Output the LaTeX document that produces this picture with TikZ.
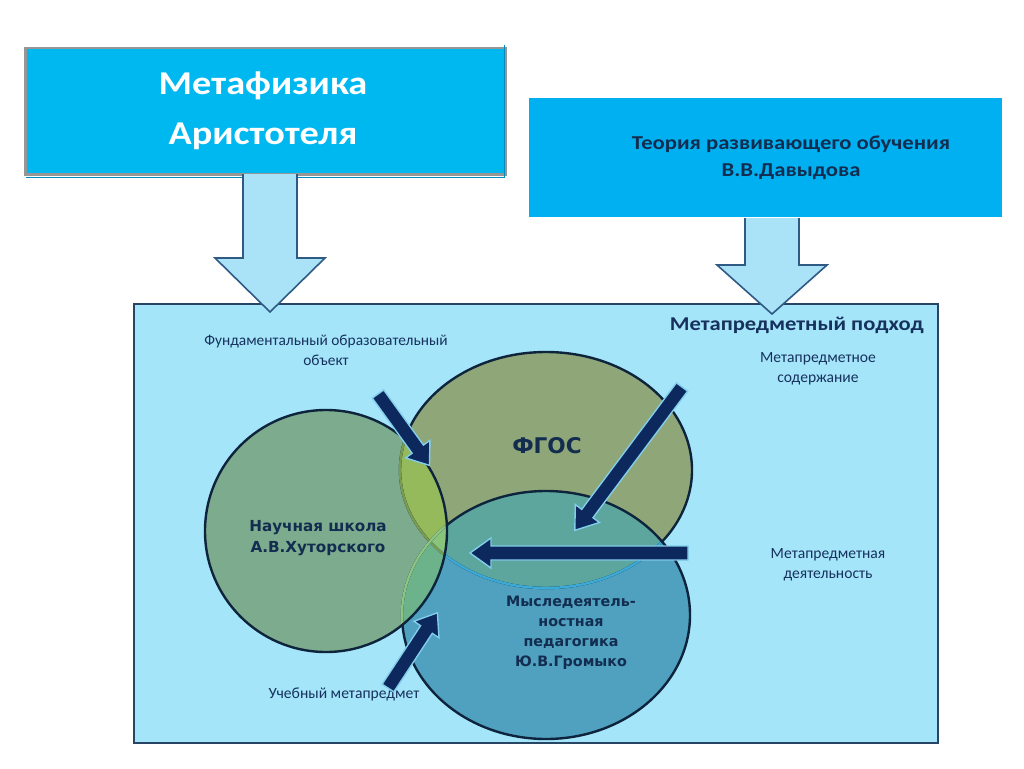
\documentclass[tikz,border=0pt]{standalone}
\usepackage{fontspec}
\setmainfont{Carlito}
\newfontfamily\widefont[FakeStretch=1.15]{Carlito}
\newfontfamily\ellfont{DejaVu Sans}
\definecolor{boxA}{RGB}{0,184,240}
\definecolor{boxB}{RGB}{0,176,240}
\definecolor{mainfill}{RGB}{165,229,250}
\definecolor{mainline}{RGB}{40,70,100}
\definecolor{arrfill}{RGB}{170,226,248}
\definecolor{arrline}{RGB}{46,90,132}
\definecolor{navy}{RGB}{22,50,92}
\definecolor{txtdark}{RGB}{18,45,80}
\definecolor{colL}{RGB}{125,171,141}
\definecolor{colF}{RGB}{143,167,120}
\definecolor{colB}{RGB}{80,160,192}
\definecolor{colLF}{RGB}{148,186,92}
\definecolor{colLB}{RGB}{108,178,138}
\definecolor{colFB}{RGB}{92,166,158}
\definecolor{colLFB}{RGB}{136,196,122}
\definecolor{edark}{RGB}{14,36,60}
\definecolor{darr}{RGB}{12,40,92}
\definecolor{glow}{RGB}{130,205,235}
\definecolor{lineFB}{RGB}{60,170,215}
\definecolor{lineFL}{RGB}{120,155,80}
\definecolor{lineBL}{RGB}{140,196,130}
\definecolor{boxgray}{RGB}{150,150,150}
\definecolor{boxedge}{RGB}{0,140,190}
\tikzset{
  lbl/.style={font=\fontsize{15.6}{19.5}\selectfont, text=navy, align=center, inner sep=0pt},
  elltxt/.style={font=\ellfont\fontsize{14.3}{20}\selectfont\bfseries, text=txtdark, align=center, inner sep=0pt},
  blockarr/.style={fill=arrfill, draw=arrline, line width=1.6pt, line join=miter},
  darkarr/.style={fill=darr, draw=glow, line width=1.4pt, line join=miter},
  eline/.style={draw=edark, line width=2.4pt},
}
\begin{document}
\begin{tikzpicture}[x=1pt,y=-1pt]
\fill[white] (0,0) rectangle (1024,768);
\useasboundingbox (0,0) rectangle (1024,768);

% main box
\node[draw=mainline, fill=mainfill, line width=2pt, minimum width=804pt, minimum height=439pt, anchor=north west, inner sep=0pt] (main) at (133,303) {};

% ellipses: base fills
\fill[colF] (546,470) ellipse [x radius=146, y radius=118];
\fill[colB] (546,615) ellipse [x radius=144, y radius=124];
\fill[colL] (326,531) ellipse [x radius=121, y radius=121];
% pairwise intersections
\begin{scope}
  \clip (326,531) ellipse [x radius=121, y radius=121];
  \fill[colLF] (546,470) ellipse [x radius=146, y radius=118];
\end{scope}
\begin{scope}
  \clip (326,531) ellipse [x radius=121, y radius=121];
  \fill[colLB] (546,615) ellipse [x radius=144, y radius=124];
\end{scope}
\begin{scope}
  \clip (546,470) ellipse [x radius=146, y radius=118];
  \fill[colFB] (546,615) ellipse [x radius=144, y radius=124];
\end{scope}
\begin{scope}
  \clip (326,531) ellipse [x radius=121, y radius=121];
  \clip (546,470) ellipse [x radius=146, y radius=118];
  \fill[colLFB] (546,615) ellipse [x radius=144, y radius=124];
\end{scope}
% outlines: FGOS (bottom layer)
\draw[eline] (546,470) ellipse [x radius=146, y radius=118];
\begin{scope}
  \clip (546,615) ellipse [x radius=143, y radius=123];
  \draw[draw=lineFB, line width=2.4pt] (546,470) ellipse [x radius=146, y radius=118];
\end{scope}
\begin{scope}
  \clip (326,531) ellipse [x radius=120, y radius=120];
  \draw[draw=lineFL, line width=2.4pt] (546,470) ellipse [x radius=146, y radius=118];
\end{scope}
% outlines: bottom ellipse
\draw[eline] (546,615) ellipse [x radius=144, y radius=124];
\begin{scope}
  \clip (326,531) ellipse [x radius=120, y radius=120];
  \draw[draw=lineBL, line width=2.4pt] (546,615) ellipse [x radius=144, y radius=124];
\end{scope}
% outlines: left ellipse (top)
\draw[eline] (326,531) ellipse [x radius=121, y radius=121];

% ellipse texts
\node[elltxt, font=\ellfont\fontsize{15.2}{20.5}\selectfont\bfseries] (sci) at (318,538) {Научная школа\\А.В.Хуторского};
\node[elltxt, font=\ellfont\fontsize{21.6}{24}\selectfont\bfseries] (fgos) at (547,446) {ФГОС};
\node[elltxt] (myslo) at (571,633) {Мыследеятель-\\ностная\\педагогика\\Ю.В.Громыко};

% labels
\node[lbl, font=\widefont\fontsize{19.6}{22}\selectfont\bfseries, anchor=east] (approach) at (924,325) {Метапредметный подход};
\node[lbl, font=\fontsize{15.4}{20}\selectfont] (fund) at (326,350) {Фундаментальный образовательный\\объект};
\node[lbl] (content) at (818,369) {Метапредметное\\содержание};
\node[lbl] (activity) at (828,565) {Метапредметная\\деятельность};
\node[lbl] (subject) at (344,694) {Учебный метапредмет};

% dark arrows
\begin{scope}[shift={(378,394)}, rotate=-54.2]
  \draw[darkarr] (0,-7) -- (68,-7) -- (68,-15) -- (88,0) -- (68,15) -- (68,7) -- (0,7) -- cycle;
\end{scope}
\begin{scope}[shift={(682,387)}, rotate=-126.8]
  \draw[darkarr] (0,-7) -- (158,-7) -- (158,-15) -- (179,0) -- (158,15) -- (158,7) -- (0,7) -- cycle;
\end{scope}
\begin{scope}[shift={(688,553)}, rotate=180]
  \draw[darkarr] (0,-7) -- (197,-7) -- (197,-15) -- (218,0) -- (197,15) -- (197,7) -- (0,7) -- cycle;
\end{scope}
\begin{scope}[shift={(388,688)}, rotate=56.7]
  \draw[darkarr] (0,-7) -- (70,-7) -- (70,-15) -- (90,0) -- (70,15) -- (70,7) -- (0,7) -- cycle;
\end{scope}

% top boxes
\node[fill=boxA, draw=boxgray, line width=2.5pt, minimum width=480pt, minimum height=126pt, anchor=north west, inner sep=0pt] (aris) at (24,47) {};
\draw[line width=1.5pt, draw=boxedge] ([xshift=-2pt,yshift=2pt]aris.north east) -- ([xshift=-2pt,yshift=-2pt]aris.south east) -- ([xshift=2pt,yshift=-2pt]aris.south west);
\node[font=\widefont\fontsize{33.3}{50}\selectfont\bfseries, text=white, align=center] (aristxt) at (263,111) {Метафизика\\Аристотеля};

\node[fill=boxB, minimum width=473pt, minimum height=119pt, anchor=north west, inner sep=0pt] (davy) at (529,98) {};
\node[font=\widefont\fontsize{19.7}{27}\selectfont\bfseries, text=txtdark, align=center] (davytxt) at (791,158) {Теория развивающего обучения\\В.В.Давыдова};

% block arrows
\draw[blockarr] (243,174) -- (243,258) -- (215,258) -- (270,312) -- (325,258) -- (297,258) -- (297,174);
\draw[blockarr] (745,218) -- (745,265) -- (717,265) -- (772,314) -- (827,265) -- (799,265) -- (799,218);
\end{tikzpicture}
\end{document}
